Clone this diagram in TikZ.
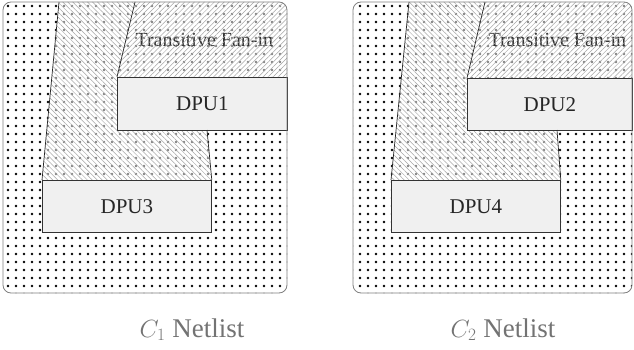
\documentclass[tikz,border=0pt]{standalone}
\usepackage{fontspec}
\setmainfont{Liberation Serif}
\usetikzlibrary{positioning,calc,backgrounds,patterns.meta}

\begin{document}
\begin{tikzpicture}[x=1pt,y=-1pt]

\tikzset{every node/.style = {font=\rmfamily\fontsize{21}{25}\selectfont, text=black!85}}
\tikzstyle{dpu}     = [rectangle, draw=black!80, line width=0.8pt, fill=black!6, inner sep=0pt, anchor=north west]
\tikzstyle{panel}   = [rounded corners=8pt]
\tikzstyle{dotfill} = [pattern={Dots[distance=8pt,radius=1.3pt]}, pattern color=black]
\tikzstyle{veil}    = [fill=white, fill opacity=0.5]
\tikzstyle{fanin}   = [pattern={Lines[angle=45,distance=3.5pt,line width=0.5pt]}, pattern color=black!35]
\tikzstyle{cone}    = [pattern={Lines[angle=-45,distance=3.5pt,line width=0.5pt]}, pattern color=black!35]
\tikzstyle{wire}    = [draw=black!85, line width=0.7pt]
\tikzstyle{fanlabel}= [anchor=base west, text=black!80, font=\rmfamily\fontsize{20}{24}\selectfont]
\tikzstyle{caption} = [font=\rmfamily\fontsize{27}{32}\selectfont, text=black!55, anchor=base]

\useasboundingbox (0,0) rectangle (634,350);

% C1 netlist
\coordinate (p1_nw)    at (3,2);
\coordinate (p1_se)    at (287,293);
\coordinate (c1_top)   at (59,2);
\coordinate (f1_top)   at (135,2);
\coordinate (f1_right) at (292,2);
\coordinate (c1_join)  at (207,130);

\node[dpu, minimum width=170pt, minimum height=53pt] (dpu1) at (117,77)  {DPU1};
\node[dpu, minimum width=169pt, minimum height=52pt] (dpu3) at (42,180)  {DPU3};

\begin{scope}[on background layer]
  \fill[dotfill, panel] (p1_nw) rectangle (p1_se);
  \begin{scope}
    \clip[panel] (p1_nw) rectangle (p1_se);
    \fill[veil] (c1_top) -- (f1_right) -- (dpu1.north east) -- (dpu1.south west) -- (c1_join)
                -- (dpu3.north east) -- (dpu3.north west) -- cycle;
    \node[fanlabel] (fan1) at (132,47) {Transitive Fan-in};
    \fill[cone]  (c1_top) -- (f1_top) -- (dpu1.north west) -- (dpu1.south west) -- (c1_join)
                 -- (dpu3.north east) -- (dpu3.north west) -- cycle;
    \fill[fanin] (f1_top) -- (f1_right) -- (dpu1.north east) -- (dpu1.north west) -- cycle;
  \end{scope}
\end{scope}

\draw[wire] (c1_top)  -- (dpu3.north west);
\draw[wire] (f1_top)  -- (dpu1.north west);
\draw[wire] (c1_join) -- (dpu3.north east);
\draw[draw=black!50, line width=0.8pt, panel] (p1_nw) rectangle (p1_se);

% C2 netlist
\coordinate (p2_nw)    at (353,2);
\coordinate (p2_se)    at (632,293);
\coordinate (c2_top)   at (409,2);
\coordinate (f2_top)   at (485,2);
\coordinate (f2_right) at (637,2);
\coordinate (c2_join)  at (557,130);

\node[dpu, minimum width=165pt, minimum height=52pt] (dpu2) at (467,78)  {DPU2};
\node[dpu, minimum width=169pt, minimum height=52pt] (dpu4) at (391,180) {DPU4};

\begin{scope}[on background layer]
  \fill[dotfill, panel] (p2_nw) rectangle (p2_se);
  \begin{scope}
    \clip[panel] (p2_nw) rectangle (p2_se);
    \fill[veil] (c2_top) -- (f2_right) -- (dpu2.north east) -- (dpu2.south west) -- (c2_join)
                -- (dpu4.north east) -- (dpu4.north west) -- cycle;
    \node[fanlabel] (fan2) at (485,47) {Transitive Fan-in};
    \fill[cone]  (c2_top) -- (f2_top) -- (dpu2.north west) -- (dpu2.south west) -- (c2_join)
                 -- (dpu4.north east) -- (dpu4.north west) -- cycle;
    \fill[fanin] (f2_top) -- (f2_right) -- (dpu2.north east) -- (dpu2.north west) -- cycle;
  \end{scope}
\end{scope}

\draw[wire] (c2_top)  -- (dpu4.north west);
\draw[wire] (f2_top)  -- (dpu2.north west);
\draw[wire] (c2_join) -- (dpu4.north east);
\draw[draw=black!50, line width=0.8pt, panel] (p2_nw) rectangle (p2_se);

% captions
\node[caption] (cap1) at (192,337) {$C_1$ Netlist};
\node[caption] (cap2) at (503,337) {$C_2$ Netlist};

\end{tikzpicture}
\end{document}
